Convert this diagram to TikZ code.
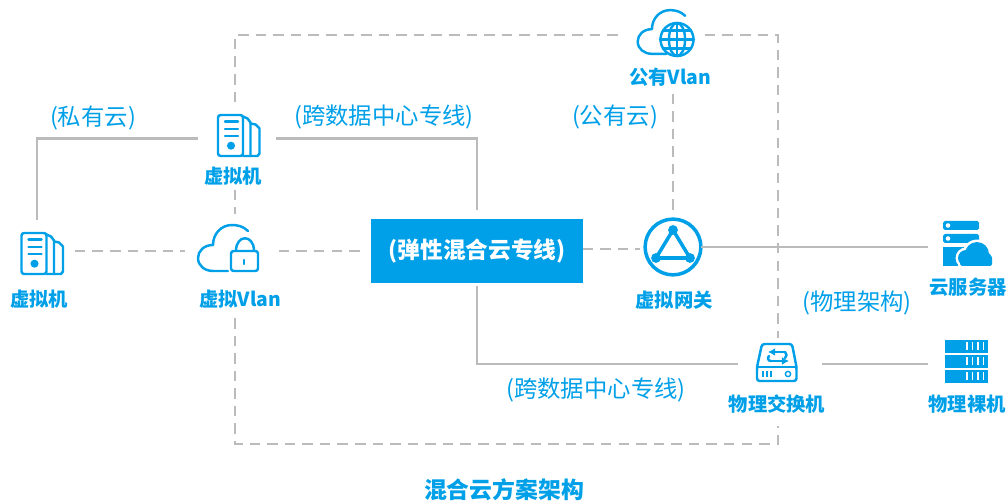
\documentclass[tikz,border=0pt]{standalone}
\usepackage{fontspec}
\usetikzlibrary{arrows.meta}
\setmainfont{Noto Sans CJK SC}
\definecolor{aliblue}{HTML}{00A0E9}
\definecolor{linegray}{HTML}{BBBBBB}
\tikzset{
  solidline/.style = {linegray, line width=1.3pt},
  dashline/.style = {linegray, line width=1.1pt, dash pattern=on 6pt off 4pt},
  iconbox/.style = {inner sep=0pt, outer sep=0pt},
  iconline/.style = {aliblue, line width=1.4pt, line join=round, line cap=round},
  nametext/.style = {aliblue, font=\fontsize{11}{12}\selectfont\bfseries, inner sep=0pt},
  linetext/.style = {aliblue, font=\fontsize{13.3}{15}\selectfont, inner sep=0pt},
  vmicon/.pic = {
    \draw[iconline, rounded corners=1.5pt] (-21.5,-20.5) rectangle (3.5,20.5);
    \draw[iconline] (3.5,-19) -- (8,-17) -- (11,-13) -- (11,20.5);
    \draw[iconline] (11,-12) -- (16,-11) -- (20,-7) -- (20,18) -- (18,20.5) -- (3.5,20.5);
    \foreach \y in {-13.8,-6.5,0.5}
      \draw[iconline] (-14.5,\y) -- (-1.5,\y);
    \fill[aliblue] (-8.5,10.2) circle (2.3pt);
  },
  cloudicon/.pic = {
    \draw[iconline] (16,-17) .. controls (11,-22) and (5,-23) .. (0,-23)
      .. controls (-11,-23) and (-19,-14) .. (-19,-3)
      .. controls (-28,-3) and (-34,3) .. (-34,10)
      .. controls (-34,18) and (-27,23) .. (-19,23) -- (-4,23);
  }
}
\begin{document}
\begin{tikzpicture}[x=0.02cm, y=-0.02cm]
\useasboundingbox (0,0) rectangle (1007,502);

% frame corners and free ends
\coordinate (frameTL) at (235,35);
\coordinate (frameTR) at (778,35);
\coordinate (frameBR) at (778,444);
\coordinate (frameBL) at (235,444);
\coordinate (privend) at (37,220);
\coordinate (vlanlow) at (235,318);
\coordinate (switchlow) at (778,426);
\coordinate (gatewayin) at (640,249);

% invisible boxes round the icons, connectors stop at their sides
\node[iconbox, minimum width=78*0.5669pt, minimum height=73*0.5669pt] (vmtop) at (237,138.5) {};
\node[iconbox, minimum width=64*0.5669pt, minimum height=62*0.5669pt] (vmleft) at (43,251) {};
\node[iconbox, minimum width=94*0.5669pt, minimum height=74*0.5669pt] (vlan) at (232,251) {};
\node[iconbox, minimum width=87*0.5669pt, minimum height=40*0.5669pt] (pubvlan) at (661.5,35) {};
\node[iconbox, minimum width=84*0.5669pt, minimum height=52*0.5669pt] (switch) at (780,364) {};
\node[iconbox, minimum width=78*0.5669pt, minimum height=52*0.5669pt] (metal) at (967,364) {};
\node[iconbox, minimum width=80*0.5669pt, minimum height=52*0.5669pt] (cloudsrv) at (968,247) {};

\node[fill=aliblue, inner sep=0pt, outer sep=0pt, minimum width=212*0.5669pt, minimum height=64*0.5669pt,
  text=white, font=\fontsize{12.9}{14}\selectfont\bfseries] (hybrid) at (477,251) {(弹性混合云专线)};
\node[draw=aliblue, line width=2pt, circle, inner sep=0pt, outer sep=0pt, minimum size=56*0.5669pt] (gateway) at (673,247) {};

% names
\node[nametext] (vmtoptext) at (233,176) {虚拟机};
\node[nametext] (vmlefttext) at (39,299) {虚拟机};
\node[nametext] (vlantext) at (240,299) {虚拟Vlan};
\node[nametext] (pubtext) at (670,77) {公有Vlan};
\node[nametext] (gatewaytext) at (674,300) {虚拟网关};
\node[nametext] (cloudtext) at (968,287) {云服务器};
\node[nametext] (switchtext) at (777,404) {物理交换机};
\node[nametext] (metaltext) at (967,404) {物理裸机};
\node[aliblue, inner sep=0pt, font=\fontsize{13}{15}\selectfont\bfseries] (title) at (504,490) {混合云方案架构};

% line labels
\node[linetext] (privlabel) at (93,118) {(私有云)};
\node[linetext] (crosslabel) at (384,117) {(跨数据中心专线)};
\node[linetext] (publabel) at (615,117) {(公有云)};
\node[linetext] (physlabel) at (857,303) {(物理架构)};
\node[linetext] (crosslow) at (596,390) {(跨数据中心专线)};

% dashed frame
\draw[dashline] (vmtop.north -| frameTL) -- (frameTL) -- (pubvlan.west);
\draw[dashline] (pubvlan.east) -- (frameTR) -- (frameTR |- switch.north);
\draw[dashline] (vmtoptext.south -| frameTL) ++(0,4) -- (frameTL |- vlan.north);
\draw[dashline] (vlanlow) -- (frameBL) -- (frameBR) -- (switchlow);
\draw[dashline, shorten >=3pt] (gateway.north |- pubtext.south) ++(0,7) -- (gateway.north);
\draw[dashline] (vmleft.east) -- (vlan.west);
\draw[dashline, shorten >=3.4pt] (vlan.east) -- (hybrid.west);
\draw[dashline] (gatewayin -| hybrid.east) -- (gatewayin);

% solid links
\draw[solidline] (vmtop.west) -| (privend);
\draw[solidline, shorten >=5pt] (vmtop.east) -| (hybrid.north);
\draw[solidline, shorten <=1.7pt] (hybrid.south) |- (switch.west);
\draw[solidline] (switch.east) -- (metal.west);
\draw[solidline] (gateway.east) -- (cloudsrv.west);

% icons
\pic at (239.5,135.5) {vmicon};
\pic at (43,253.5) {vmicon};

\pic at (232,248) {cloudicon};
\draw[iconline, rounded corners=1.5pt] (231,251) rectangle (258,271);
\draw[iconline] (236,251) .. controls (236,234) and (254,234) .. (254,251);
\draw[iconline] (244,260) -- (244,264);

\pic[scale=0.95] at (670,32) {cloudicon};
\fill[white] (677,39.5) circle (9.6pt);
\draw[iconline] (677,39.5) circle (9.4pt);
\draw[iconline] (677,39.5) ellipse (4.6pt and 9.4pt);
\draw[iconline] (677,23) -- (677,56);
\draw[iconline] (660,39.5) -- (694,39.5);
\draw[iconline] (663,30.5) -- (691,30.5);
\draw[iconline] (663,48.5) -- (691,48.5);

\coordinate (triA) at (673,230);
\coordinate (triB) at (656,258);
\coordinate (triC) at (690,258);
\draw[iconline, line width=2pt] (triA) -- (triB) -- (triC) -- cycle;
\foreach \p in {triA,triB,triC}
  \fill[aliblue] (\p) circle (2.8pt);

\fill[aliblue, rounded corners=1pt] (943,221) rectangle (979,230);
\fill[aliblue, rounded corners=1pt] (943,234) rectangle (979,243);
\fill[white] (948,225.5) circle (1.3pt);
\fill[white] (948,238.5) circle (1.3pt);
\fill[aliblue] (943,247) rectangle (968,266);
\foreach \c/\r in {966/8, 977/12, 985/7}
  \fill[white] (\c,{258-(\r-8)}) circle ({(\r+2.5)*0.5669pt});
\fill[white] (958,256) rectangle (994,269);
\foreach \c/\r in {966/8, 977/12, 985/7}
  \fill[aliblue] (\c,{258-(\r-8)}) circle ({\r*0.5669pt});
\fill[aliblue, rounded corners=1pt] (960,256) rectangle (992,266);

\draw[iconline, rounded corners=1.5pt] (762,344) -- (792,344) -- (796.5,367) -- (796.5,381) -- (757,381) -- (757,367) -- cycle;
\draw[iconline] (757,367) -- (796.5,367);
\draw[iconline, -{Latex[length=4pt,width=4.5pt]}] (785,352) -- (768,352);
\draw[iconline] (785,352) .. controls (787,354) and (787,356) .. (785,358);
\draw[iconline] (769,356) .. controls (767,358) and (768,361) .. (771,361);
\draw[iconline, -{Latex[length=4pt,width=4.5pt]}] (771,361) -- (789,361);
\foreach \x in {763,767,771}
  \draw[aliblue, line width=0.7pt] (\x,371) -- (\x,377);
\draw[aliblue, line width=0.8pt] (788,374) circle (1.5pt);

\foreach \y in {340,355,370} {
  \fill[aliblue] (945,\y) rectangle (988,\y+13);
  \foreach \x in {967,972.5,978,983.5}
    \fill[white] (\x-0.9,\y+2.5) rectangle (\x+0.9,\y+10.5);
}
\end{tikzpicture}
\end{document}
